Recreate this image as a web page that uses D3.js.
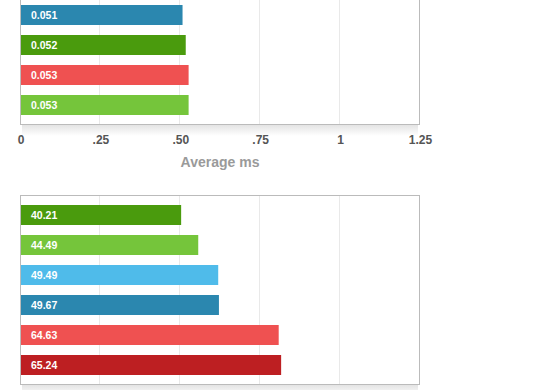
<!DOCTYPE html>
<html>
<head>
<meta charset="utf-8">
<script src="https://cdn.jsdelivr.net/npm/d3@7"></script>
<style>
  body { margin: 0; background: #fff; }
  text { font-family: "Liberation Sans", Arial, Helvetica, sans-serif; }
</style>
</head>
<body>
<svg id="chart" width="560" height="390"></svg>
<script>
// top chart: average ms
let topCats = ["a", "b", "c", "d"]
let topValues = [0.0507, 0.0517, 0.0526, 0.0526]
let topColors = ["#2b87af", "#4a9b0d", "#ef5151", "#75c53b"]
let topTicks = [0, 0.025, 0.05, 0.075, 0.1, 0.125]
let topTickLabels = ["0", ".25", ".50", ".75", "1", "1.25"]

// bottom chart
let botCats = ["a", "b", "c", "d", "e", "f"]
let botValues = [40.21, 44.49, 49.49, 49.67, 64.63, 65.24]
let botColors = ["#4a9b0d", "#75c53b", "#4fbbea", "#2b87af", "#ef5151", "#bd1f22"]
let botTicks = [0, 20, 40, 60, 80, 100]

let svg = d3.select("#chart")
let defs = svg.append("defs")
let grad = defs.append("linearGradient").attr("id", "shadow")
    .attr("x1", 0).attr("y1", 0).attr("x2", 0).attr("y2", 1)
grad.append("stop").attr("offset", 0).attr("stop-color", "#e4e4e4")
grad.append("stop").attr("offset", 1).attr("stop-color", "#fff")

function panel(opts) {
    let g = svg.append("g")
    let x = d3.scaleLinear().domain(opts.domain).range([20.5, 420])
    let y = d3.scaleBand().domain(opts.cats).range(opts.yRange)
        .paddingInner(1 / 3).paddingOuter(1 / 6)

    // soft shadow under the frame
    g.append("rect")
        .attr("x", 22).attr("y", opts.frame[1] + 0.5)
        .attr("width", 396).attr("height", 11)
        .attr("fill", "url(#shadow)")

    g.append("rect")
        .attr("x", 20.5).attr("y", opts.frame[0])
        .attr("width", 399).attr("height", opts.frame[1] - opts.frame[0])
        .attr("fill", "#fff")

    g.append("g").selectAll("line")
        .data(opts.ticks.slice(1, -1))
        .enter()
        .append("line")
        .attr("x1", d => Math.round(x(d)) - 0.5)
        .attr("x2", d => Math.round(x(d)) - 0.5)
        .attr("y1", opts.frame[0]).attr("y2", opts.frame[1])
        .attr("stroke", "#e9e9e9")

    g.append("g").selectAll("rect")
        .data(opts.values)
        .enter()
        .append("rect")
        .attr("x", 21)
        .attr("y", (d, i) => y(opts.cats[i]))
        .attr("width", d => x(d) - 21)
        .attr("height", y.bandwidth())
        .attr("fill", (d, i) => opts.colors[i])

    g.append("g").selectAll("text")
        .data(opts.values)
        .enter()
        .append("text")
        .attr("x", 31)
        .attr("y", (d, i) => y(opts.cats[i]) + y.bandwidth() / 2)
        .attr("dy", "0.35em")
        .attr("fill", "#fff")
        .attr("font-size", "10.5px")
        .attr("font-weight", "bold")
        .text(d => opts.fmt(d))

    g.append("rect")
        .attr("x", 20.5).attr("y", opts.frame[0])
        .attr("width", 399).attr("height", opts.frame[1] - opts.frame[0])
        .attr("fill", "none")
        .attr("stroke", "#bbb")

    if (opts.tickLabels) {
        let axis = d3.axisBottom(x)
            .tickValues(opts.ticks)
            .tickSize(0)
            .tickPadding(0)
            .tickFormat((d, i) => opts.tickLabels[i])
        let ax = g.append("g")
            .attr("transform", "translate(0," + (opts.frame[1] + 11) + ")")
            .call(axis)
        ax.select(".domain").remove()
        ax.selectAll("text")
            .attr("font-family", null)
            .attr("font-size", "12px")
            .attr("font-weight", "bold")
            .attr("fill", "#555")

        g.append("text")
            .attr("x", 220).attr("y", opts.frame[1] + 42)
            .attr("text-anchor", "middle")
            .attr("font-size", "14px")
            .attr("font-weight", "bold")
            .attr("fill", "#9a9a9a")
            .text(opts.title)
    }
}

panel({
    cats: topCats, values: topValues, colors: topColors,
    domain: [0, 0.125], ticks: topTicks, tickLabels: topTickLabels,
    yRange: [0, 120], frame: [-4.5, 124.5],
    fmt: d3.format(".3f"), title: "Average ms"
})

panel({
    cats: botCats, values: botValues, colors: botColors,
    domain: [0, 100], ticks: botTicks,
    yRange: [200, 380], frame: [195.5, 384.5],
    fmt: d3.format(".2f")
})
</script>
</body>
</html>
